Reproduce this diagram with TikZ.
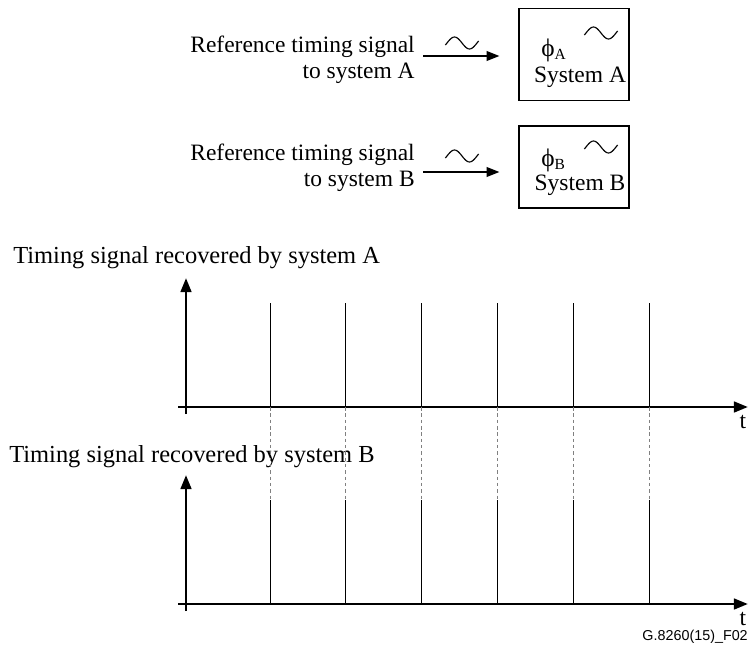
\documentclass[tikz,border=0pt]{standalone}
\usepackage{fontspec}
\setmainfont{Liberation Serif}
\newfontfamily\footfont{Liberation Sans}
\usepackage{tikz}
\usetikzlibrary{arrows.meta}

\tikzset{
  lbl/.style={inner sep=0pt,font=\fontsize{16.7}{18.5}\selectfont},
  title/.style={inner sep=0pt,font=\fontsize{17.4}{19}\selectfont},
  sysbox/.style={draw,line width=1pt,minimum width=110*0.025cm,inner sep=0pt},
  feed/.style={line width=0.8pt,-{Triangle[length=9pt,width=7pt]}},
  axis/.style={line width=2pt,-{Triangle[length=10pt,width=7.5pt]}},
  pulse/.style={line width=0.6pt},
  guide/.style={line width=0.4pt,dashed,dash pattern=on 2.5pt off 2pt,gray},
  wave/.pic={\draw[line width=0.8pt] plot[smooth,domain=-20:380,samples=30] ({\x/360*30},{-6*sin(\x)});}
}

\begin{document}
\begin{tikzpicture}[x=0.025cm,y=-0.025cm]
\useasboundingbox (0,0) rectangle (749,658);

% inputs and systems
\node[lbl,align=right,anchor=east] (refA) at (415,60) {Reference timing signal\\to system A};
\node[lbl,align=right,anchor=east] (refB) at (415,168) {Reference timing signal\\to system B};
\node[sysbox,minimum height=92*0.025cm] (sysA) at (574,54.5) {};
\node[sysbox,minimum height=82*0.025cm] (sysB) at (574,167) {};

\coordinate (inA) at (423,56);
\coordinate (inB) at (423,172);
\draw[feed,shorten >=19*0.025cm] (inA) -- (sysA.west |- inA);
\draw[feed,shorten >=19*0.025cm] (inB) -- (sysB.west |- inB);
\pic at (447,43) {wave};
\pic at (447,156) {wave};
\pic at (586,33) {wave};
\pic at (586,147) {wave};

\node[lbl,anchor=west] (phiA) at (541,50) {\fontsize{18}{18}\selectfont ϕ\textsubscript{\fontsize{11}{11}\selectfont A}};
\node[lbl,anchor=west] (phiB) at (541,160) {\fontsize{18}{18}\selectfont ϕ\textsubscript{\fontsize{11}{11}\selectfont B}};
\node[lbl] (nameA) at (580,77) {System A};
\node[lbl] (nameB) at (580,185) {System B};

% recovered signals
\node[title,anchor=west] (titA) at (13,258) {Timing signal recovered by system A};
\node[title,anchor=west] (titB) at (9,457) {Timing signal recovered by system B};

\draw[axis] (186,414) -- (186,278);
\draw[axis] (178,407) -- (748,407);
\draw[axis] (186,611) -- (186,475);
\draw[axis] (178,604) -- (748,604);
\node[lbl] (tA) at (743,422) {t};
\node[lbl] (tB) at (743,619) {t};

\foreach \px in {270,345,421,497,573,649}{
  \draw[pulse] (\px,407) -- (\px,303);
  \draw[pulse] (\px,604) -- (\px,500);
  \draw[guide] (\px,407) -- (\px,500);
}

\node[inner sep=0pt,anchor=east,font=\footfont\fontsize{10.2}{12}\selectfont] (figid) at (748,637) {G.8260(15)\_F02};
\end{tikzpicture}
\end{document}
